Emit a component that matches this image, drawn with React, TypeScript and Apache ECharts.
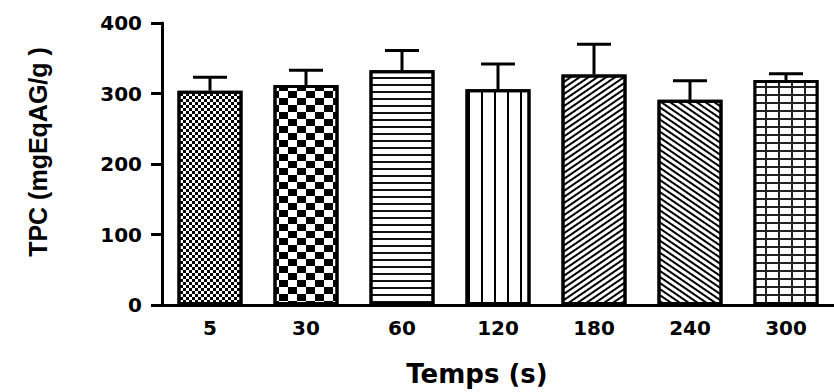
import React, { useEffect, useRef } from "react";
import * as echarts from "echarts";

const categories = ["5", "30", "60", "120", "180", "240", "300"];
const means = [304, 312, 333, 306, 327, 291, 319];
const errors = [19, 21, 28, 36, 43, 27, 9];
const yTicks = [0, 100, 200, 300, 400];

const numFont = "DejaVu Sans";

const decals: any[] = [
  { color: "#000", dashArrayX: [[3, 3], [0, 3, 3, 0]], dashArrayY: [2.7, 0], symbol: "rect", symbolSize: 1, symbolKeepAspect: false },
  { color: "#000", dashArrayX: [[8.5, 8.5], [0, 8.5, 8.5, 0]], dashArrayY: [7, 0], symbol: "rect", symbolSize: 1, symbolKeepAspect: false },
  { color: "#111", dashArrayX: [1, 0], dashArrayY: [1.6, 4.2], symbol: "rect", symbolSize: 1, symbolKeepAspect: false },
  { color: "#000", dashArrayX: [2, 10.7], dashArrayY: [1, 0], symbol: "rect", symbolSize: 1, symbolKeepAspect: false },
  { color: "#000", dashArrayX: [1, 0], dashArrayY: [1.3, 2.3], rotation: -0.6, symbol: "rect", symbolSize: 1, symbolKeepAspect: false },
  { color: "#000", dashArrayX: [1, 0], dashArrayY: [1.3, 2.3], rotation: 0.6, symbol: "rect", symbolSize: 1, symbolKeepAspect: false },
  { color: "#fff", dashArrayX: [10.5, 2], dashArrayY: [6, 1.8], symbol: "rect", symbolSize: 1, symbolKeepAspect: false },
];
const barColors = ["#fff", "#fff", "#fff", "#fff", "#fff", "#fff", "#222"];

export default function App() {
  const ref = useRef<HTMLDivElement>(null);
  useEffect(() => {
    document.body.style.margin = "0";
    const chart = echarts.init(ref.current!, null, { renderer: "svg" });
    const barData = means.map((v, i) => ({
      value: v,
      itemStyle: { color: barColors[i], decal: decals[i], borderColor: "#000", borderWidth: 3 },
    }));
    const errData = means.map((v, i) => [i, v, v + errors[i]]);
    chart.setOption({
      animation: false,
      grid: { left: 162, top: 23, width: 681, height: 283 },
      xAxis: {
        type: "category",
        data: categories,
        axisLine: { lineStyle: { color: "#000", width: 3 } },
        axisTick: { alignWithLabel: true, length: 8, lineStyle: { color: "#000", width: 3 } },
        axisLabel: { color: "#000", fontFamily: numFont, fontWeight: "bold", fontSize: 20, margin: 13 },
        name: "Temps (s)",
        nameLocation: "middle",
        nameGap: 56,
        nameTextStyle: { color: "#000", fontFamily: numFont, fontWeight: "bold", fontSize: 26, padding: [0, 42, 0, 0] },
      },
      yAxis: {
        type: "value",
        min: 0,
        max: 400,
        interval: 100,
        splitLine: { show: false },
        axisLine: { show: true, lineStyle: { color: "#000", width: 3 } },
        axisTick: { show: true, length: 11, lineStyle: { color: "#000", width: 3 } },
        axisLabel: {
          color: "#000",
          fontFamily: numFont,
          fontWeight: "bold",
          fontSize: 20,
          margin: 20,
          formatter: (v: number) => (yTicks.includes(v) ? String(v) : ""),
        },
        name: "TPC (mgEqAG/g )",
        nameLocation: "middle",
        nameGap: 112,
        nameTextStyle: { color: "#000", fontFamily: "Liberation Sans", fontWeight: "bold", fontSize: 25, padding: [0, 0, 0, 24] },
      },
      series: [
        {
          type: "custom",
          data: errData,
          encode: { x: 0, y: [1, 2] },
          z: 1,
          renderItem: (params: any, api: any) => {
            const b = api.coord([api.value(0), api.value(1)]);
            const t = api.coord([api.value(0), api.value(2)]);
            const st = { stroke: "#000", lineWidth: 3 };
            return {
              type: "group",
              children: [
                { type: "line", shape: { x1: b[0], y1: b[1], x2: t[0], y2: t[1] }, style: st },
                { type: "line", shape: { x1: t[0] - 17, y1: t[1], x2: t[0] + 17, y2: t[1] }, style: st },
              ],
            };
          },
        },
        {
          type: "bar",
          data: barData,
          barWidth: 65,
          z: 2,
        },
      ],
    });
    return () => chart.dispose();
  }, []);
  return <div ref={ref} style={{ width: 834, height: 392 }} />;
}
